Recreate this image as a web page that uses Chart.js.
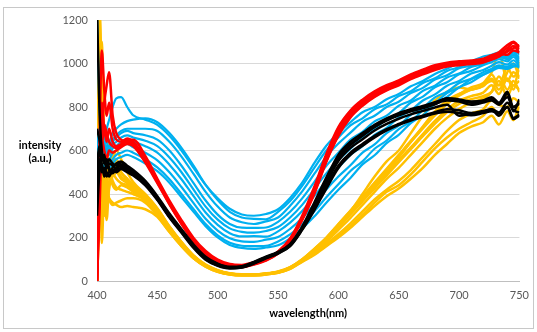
<!DOCTYPE html>
<html>
<head>
<meta charset="utf-8">
<script src="https://cdn.jsdelivr.net/npm/chart.js@4"></script>
<style>
  html, body { margin: 0; padding: 0; background: #fff; }
  canvas { display: block; }
</style>
</head>
<body>
<canvas id="spectra" width="537" height="332"></canvas>
<script>
// wavelength sampling (nm) shared by all spectra
var wavelengths = [400,402,404,406,408, 410,413,416,420,425, 430,440,450,460,470, 480,490,500,510,520,
                   530,540,550,560,570, 580,590,600,610,620, 630,640,650,660,670, 680,690,700,710,720,
                   727,733,740,745,750];

var xTicks = [400, 450, 500, 550, 600, 650, 700, 750];
var yTicks = [0, 200, 400, 600, 800, 1000, 1200];

// red spectra
var red = [
  [0,620,1060,880,760, 820,700,650,640,655, 640,565,462,362,272, 192,132,94,74,70, 82,100,132,192,292, 422,575,702,780,828, 868,896,918,944,966, 986,998,1004,1008,1016, 1030,1044,1072,1095,1065],
  [0,300,700,820,900, 960,760,680,650,640, 625,550,455,355,265, 185,125,88,68,66, 78,96,128,186,284, 405,552,672,756,810, 850,880,904,932,955, 975,990,996,1002,1008, 1018,1032,1060,1080,1050],
  [0,500,820,700,640, 700,640,620,630,650, 650,575,470,370,280, 198,138,98,78,74, 86,104,136,196,300, 432,584,708,784,834, 872,900,922,950,972, 992,1004,1010,1014,1022, 1038,1052,1085,1100,1075],
  [0,450,600,720,680, 640,620,610,625,640, 632,558,458,358,268, 188,128,90,70,68, 80,98,130,190,288, 418,568,688,768,818, 858,888,910,938,960, 980,994,1000,1004,1012, 1030,1045,1040,1060,1050],
  [0,400,650,600,560, 600,590,600,615,630, 620,545,450,352,262, 182,122,86,66,64, 76,94,126,184,280, 400,548,668,752,806, 846,876,900,928,950, 970,986,992,998,1004, 1020,1035,1055,1070,1085]
];

// black spectra
var black = [
  [1250,800,600,560,520, 560,540,530,545,525, 505,455,385,305,232, 162,107,77,63,66, 86,110,132,168,245, 345,455,560,625,668, 708,738,765,782,798, 815,830,825,810,820, 830,810,845,800,815],
  [700,650,580,540,560, 520,500,510,520,510, 490,445,375,295,225, 155,100,72,60,63, 82,106,128,162,238, 330,435,530,590,630, 668,698,722,744,760, 776,790,785,772,782, 790,775,820,785,775],
  [500,620,520,500,480, 500,520,540,550,530, 510,460,390,310,238, 168,112,80,65,68, 88,112,134,170,250, 360,475,580,640,680, 718,748,772,790,805, 822,838,832,820,828, 838,815,860,780,835],
  [400,560,500,520,500, 480,510,500,515,500, 485,440,372,292,222, 152,98,70,58,62, 80,104,126,160,235, 325,425,520,580,622, 660,692,718,738,754, 770,778,772,762,772, 780,770,800,750,765],
  [300,500,540,480,540, 510,495,520,530,515, 498,452,382,302,230, 160,104,75,62,64, 84,108,130,166,242, 342,452,552,612,652, 692,722,746,766,782, 798,810,760,770,775, 790,760,800,745,760],
  [550,600,560,580,520, 540,530,515,535,520, 500,448,378,298,228, 158,102,74,61,65, 85,109,131,165,242, 350,465,568,628,670, 710,740,762,780,795, 812,840,835,825,830, 845,820,870,800,820]
];

// blue spectra
var blue = [
  [1250,800,700,650,700, 740,800,840,845,800, 762,742,718,668,600, 520,442,380,332,306, 300,308,330,382,452, 542,622,682,730,776, 800,836,860,895,920, 952,976,1002,1010,1032, 1040,1050,1040,1055,1040],
  [600,700,650,620,660, 640,680,700,720,735, 742,748,730,680,612, 530,442,372,318,292, 286,284,318,368,438, 520,600,660,716,748, 790,812,850,872,910, 932,966,982,1004,1014, 1030,1040,1020,1040,1030],
  [500,650,600,640,600, 620,650,670,690,700, 700,700,690,640,572, 492,410,342,292,270, 262,274,292,346,412, 492,572,632,682,732, 760,800,824,864,888, 926,946,978,990,1012, 1024,1038,1030,1050,1020],
  [550,600,580,620,640, 600,640,660,680,690, 680,670,650,600,530, 450,370,305,262,245, 244,246,272,318,380, 455,530,590,650,686, 734,760,806,830,874, 898,936,954,984,998, 1016,1030,1020,1040,1010],
  [450,580,560,600,620, 620,630,640,660,670, 660,645,620,568,500, 420,342,282,242,226, 222,230,248,292,350, 422,495,556,608,664, 698,744,772,820,848, 890,914,950,966,992, 1006,1020,1010,1030,1000],
  [420,560,600,560,600, 580,610,620,640,650, 640,620,590,535,468, 390,315,258,220,205, 206,204,228,268,322, 390,460,520,580,620, 672,704,752,784,830, 858,898,920,954,970, 990,1006,995,1015,990],
  [400,520,580,540,560, 560,590,600,620,630, 615,590,555,500,432, 358,286,232,196,182, 180,190,202,240,290, 352,420,480,532,590, 628,680,714,764,796, 844,870,910,930,960, 976,992,985,1000,980],
  [380,500,540,520,540, 540,560,580,590,600, 590,560,522,468,400, 330,262,210,176,162, 160,162,182,214,262, 320,385,445,506,550, 608,646,698,734,784, 818,864,890,928,948, 970,985,980,990,985],
  [360,480,520,500,520, 520,540,560,570,580, 570,540,505,452,385, 318,252,200,166,152, 148,154,164,196,242, 296,360,420,474,536, 578,634,672,726,762, 814,846,890,914,948, 966,980,975,985,990]
];

// gold spectra
var gold = [
  [0,1000,350,600,500, 560,480,500,470,450, 420,380,320,240,170, 110,70,45,32,28, 28,32,40,60,95, 140,190,250,320,400, 480,550,600,680,760, 830,870,890,880,900, 920,900,930,900,920],
  [0,1250,600,450,400, 380,360,350,340,345, 340,330,295,225,160, 104,66,42,30,26, 26,30,38,56,90, 130,170,215,265,320, 375,420,460,510,570, 630,690,740,770,790, 830,810,800,840,820],
  [0,800,175,420,280, 450,520,560,500,470, 440,395,330,248,176, 114,72,48,34,30, 30,34,42,62,98, 145,196,256,318,380, 442,505,568,640,710, 780,830,860,880,900, 960,1050,920,960,940],
  [0,600,1100,500,360, 420,540,600,560,500, 455,400,335,252,180, 118,76,50,36,31, 31,35,44,64,100, 148,200,262,324,388, 452,516,580,644,706, 766,818,858,890,910, 950,900,980,940,970],
  [0,1250,900,300,420, 520,460,430,420,410, 400,370,310,232,165, 106,68,44,31,27, 27,31,39,58,92, 125,165,205,252,305, 360,410,440,490,550, 610,660,700,730,760, 800,760,800,740,820],
  [0,300,800,700,560, 500,440,420,440,430, 410,375,315,236,168, 108,69,45,32,28, 28,32,40,59,93, 138,186,246,306,366, 426,486,546,606,666, 724,776,814,836,850, 870,920,850,900,880],
  [0,900,450,380,520, 600,560,520,480,460, 430,388,325,244,172, 112,72,47,33,29, 29,33,41,61,96, 135,180,235,290,350, 410,470,520,580,640, 700,750,790,820,840, 870,940,880,920,870],
  [0,1100,700,550,600, 640,580,540,500,470, 445,398,332,250,178, 116,74,49,35,30, 30,34,43,63,99, 146,198,260,322,384, 448,512,576,640,702, 762,814,852,880,896, 930,880,960,1000,930],
  [0,500,400,500,450, 380,350,360,370,380, 380,360,300,226,160, 104,66,42,30,26, 26,30,38,56,88, 120,160,200,245,295, 345,390,425,470,520, 580,630,680,710,730, 760,720,780,740,800],
  [0,700,950,620,480, 560,500,470,450,440, 420,382,318,238,170, 110,70,46,33,29, 29,33,41,60,94, 140,188,248,310,372, 434,494,554,614,676, 736,788,828,850,866, 900,860,930,880,1010]
];

function makeSets(rows, color, width) {
  return rows.map(function (row) {
    return {
      data: row.map(function (v, i) { return { x: wavelengths[i], y: v }; }),
      borderColor: color,
      borderWidth: width,
      pointRadius: 0,
      fill: false,
      cubicInterpolationMode: 'monotone'
    };
  });
}

var datasets = []
  .concat(makeSets(black, '#000000', 2.5))
  .concat(makeSets(red, '#ff0000', 2.5))
  .concat(makeSets(blue, '#00b0f0', 2.2))
  .concat(makeSets(gold, '#ffc000', 2.5));

// frame round the chart plus the two axis titles (y title sits horizontally)
var decor = {
  id: 'decor',
  beforeDraw: function (chart) {
    var ctx = chart.ctx;
    ctx.save();
    ctx.fillStyle = '#ffffff';
    ctx.fillRect(0, 0, chart.width, chart.height);
    ctx.strokeStyle = '#c8c8c8';
    ctx.lineWidth = 1;
    ctx.strokeRect(3.5, 7.5, 530, 321);
    ctx.restore();
  },
  afterDraw: function (chart) {
    var ctx = chart.ctx;
    ctx.save();
    ctx.fillStyle = '#000000';
    ctx.font = 'bold 11px Lato, "Open Sans", sans-serif';
    ctx.textAlign = 'center';
    ctx.textBaseline = 'middle';
    ctx.fillText('intensity', 40, 145);
    ctx.fillText('(a.u.)', 40, 158);
    var a = chart.chartArea;
    ctx.fillText('wavelength(nm)', (a.left + a.right) / 2, 313);
    ctx.restore();
  }
};

function plain(v) { return String(v); }

var ctx = document.getElementById('spectra').getContext('2d');
new Chart(ctx, {
  type: 'line',
  data: { datasets: datasets },
  plugins: [decor],
  options: {
    responsive: false,
    animation: false,
    layout: { padding: { left: 0, top: 20, right: 16, bottom: 0 } },
    plugins: { legend: { display: false }, tooltip: { enabled: false } },
    scales: {
      x: {
        type: 'linear',
        min: 400,
        max: 750,
        afterFit: function (scale) { scale.height = 51; },
        afterBuildTicks: function (scale) { scale.ticks = xTicks.map(function (v) { return { value: v }; }); },
        grid: { display: false, drawTicks: false },
        border: { display: true, color: '#bfbfbf', width: 1 },
        ticks: { padding: 8, color: '#595959', font: { family: 'Lato', size: 11 }, callback: plain }
      },
      y: {
        min: 0,
        max: 1200,
        afterFit: function (scale) { scale.width = 97; },
        afterBuildTicks: function (scale) { scale.ticks = yTicks.map(function (v) { return { value: v }; }); },
        grid: { color: '#d9d9d9', drawTicks: false },
        border: { display: false },
        ticks: { padding: 9, color: '#595959', font: { family: 'Lato', size: 11 }, callback: plain }
      }
    }
  }
});
</script>
</body>
</html>
